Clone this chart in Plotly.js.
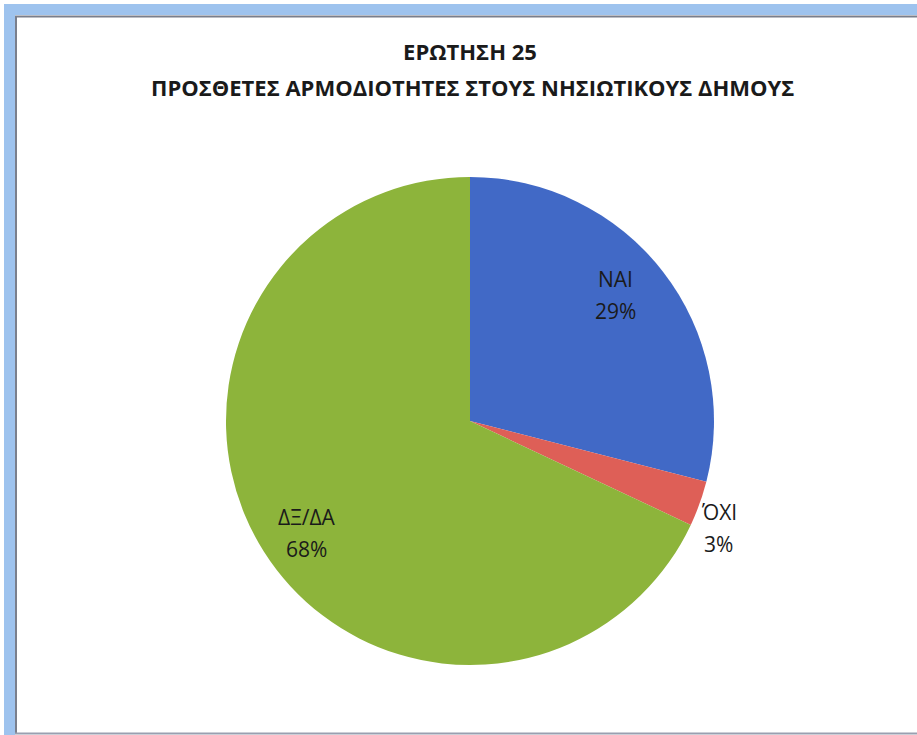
<!DOCTYPE html>
<html><head><meta charset="utf-8">
<script src="https://cdn.plot.ly/plotly-3.0.1.min.js"></script>
<style>html,body{margin:0;padding:0;background:#fff}#chart{width:917px;height:735px}</style>
</head><body><div id="chart"></div>
<script>
var labels = ["ΝΑΙ", "ΌΧΙ", "ΔΞ/ΔΑ"];
var values = [29, 3, 68];
var colors = ["#4169C6", "#DE5F57", "#8DB43B"];
var titleLines = ["ΕΡΩΤΗΣΗ 25", "ΠΡΟΣΘΕΤΕΣ ΑΡΜΟΔΙΟΤΗΤΕΣ ΣΤΟΥΣ ΝΗΣΙΩΤΙΚΟΥΣ ΔΗΜΟΥΣ"];

// label placement style (radius as fraction of pie radius, angular nudge in degrees)
var labelRadius = [0.79, 1.11, 0.81];
var labelNudge = [-3, 3.5, -2];

var W = 917, H = 735;
function px(x){return x/W;}
function py(y){return 1 - y/H;}
var cx = 470, cy = 421, r = 244;
var FONT = "Open Sans, sans-serif";

var trace = {
  type: "pie",
  labels: labels,
  values: values,
  sort: false,
  direction: "clockwise",
  rotation: 0,
  marker: {colors: colors, line: {width: 0}},
  textinfo: "none",
  automargin: false,
  showlegend: false,
  hoverinfo: "label+percent",
  domain: {x: [px(cx - r), px(cx + r)], y: [py(cy + r), py(cy - r)]}
};

var total = values.reduce(function(a,b){return a+b;}, 0);
var annotations = [];
var cum = 0;
values.forEach(function(v, i){
  var mid = (cum + v/2) / total * 360 + labelNudge[i];
  cum += v;
  var a = mid * Math.PI / 180;
  var lx = cx + r * labelRadius[i] * Math.sin(a);
  var ly = cy - r * labelRadius[i] * Math.cos(a);
  var pct = Math.round(v / total * 100) + "%";
  annotations.push({xref: "paper", yref: "paper", x: px(lx), y: py(ly), text: labels[i],
    showarrow: false, xanchor: "center", yanchor: "middle", yshift: 16,
    font: {family: FONT, size: 21, color: "#1a1a1a"}});
  annotations.push({xref: "paper", yref: "paper", x: px(lx), y: py(ly), text: pct,
    showarrow: false, xanchor: "center", yanchor: "middle", yshift: -16,
    font: {family: FONT, size: 21, color: "#1a1a1a"}});
});
annotations.push({xref: "paper", yref: "paper", x: px(472), y: py(87), text: "<b>" + titleLines[1] + "</b>",
  showarrow: false, xanchor: "center", yanchor: "middle",
  font: {family: FONT, size: 22, color: "#1a1a1a"}});

var layout = {
  width: W, height: H,
  margin: {l: 0, r: 0, t: 0, b: 0},
  paper_bgcolor: "#ffffff",
  showlegend: false,
  title: {
    text: "<b>" + titleLines[0] + "</b>",
    font: {family: FONT, size: 22, color: "#1a1a1a"},
    x: px(470), xanchor: "center",
    y: py(52), yanchor: "middle"
  },
  annotations: annotations,
  shapes: [
    {type: "rect", xref: "paper", yref: "paper", x0: px(4), x1: px(15), y0: py(735), y1: py(4), fillcolor: "#9EC3EE", line: {width: 0}, layer: "below"},
    {type: "rect", xref: "paper", yref: "paper", x0: px(4), x1: px(920), y0: py(15), y1: py(4), fillcolor: "#9EC3EE", line: {width: 0}, layer: "below"},
    {type: "line", xref: "paper", yref: "paper", x0: px(16), x1: px(16), y0: py(734), y1: py(16), line: {color: "#7A7F8C", width: 2}},
    {type: "line", xref: "paper", yref: "paper", x0: px(15), x1: px(920), y0: py(16.5), y1: py(16.5), line: {color: "#7A7F8C", width: 2}},
    {type: "line", xref: "paper", yref: "paper", x0: px(15), x1: px(920), y0: py(733.5), y1: py(733.5), line: {color: "#9A9FB0", width: 2}}
  ]
};

Plotly.newPlot("chart", [trace], layout, {displayModeBar: false, staticPlot: true});
</script></body></html>
